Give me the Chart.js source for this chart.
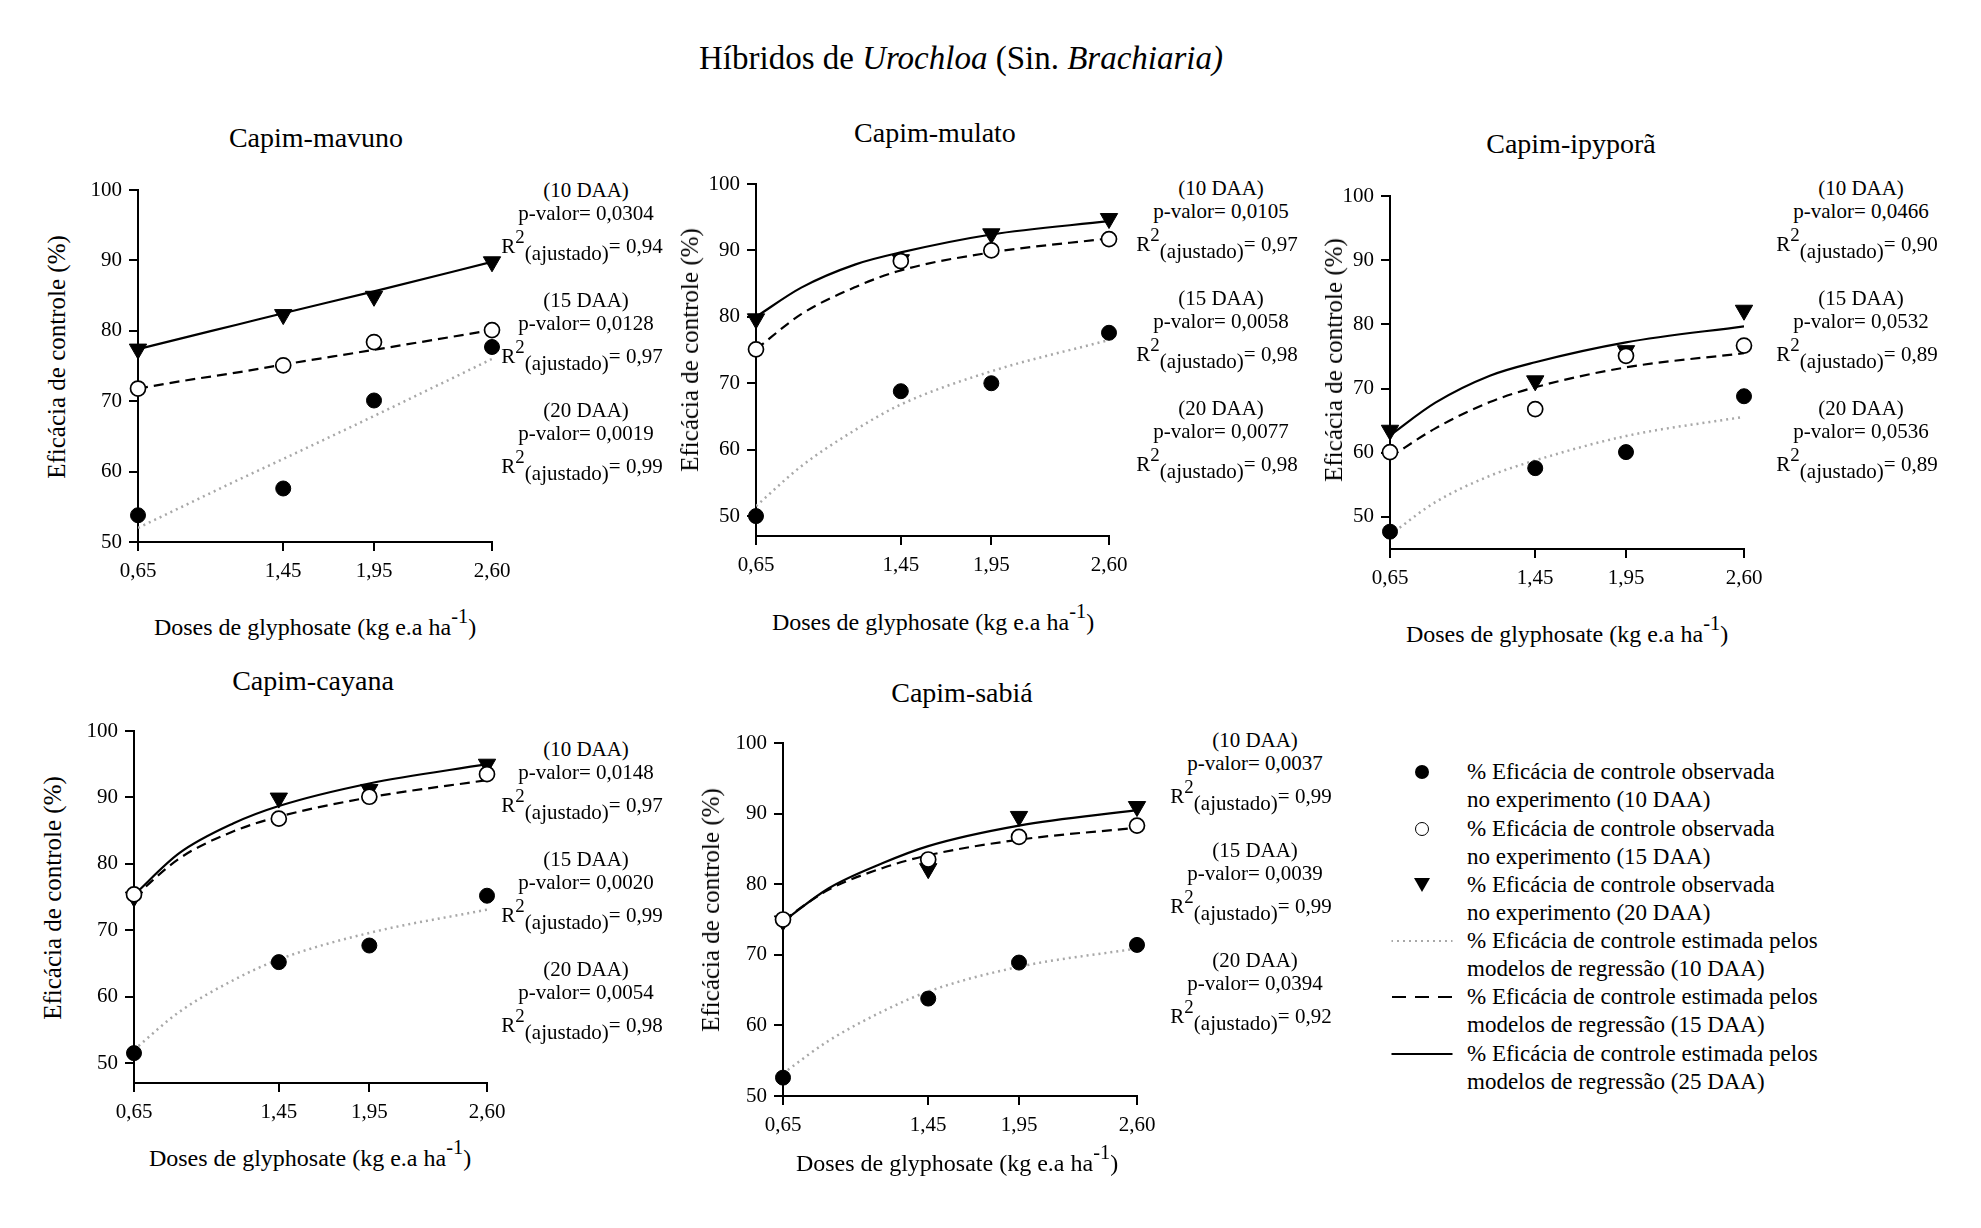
<!DOCTYPE html>
<html>
<head>
<meta charset="utf-8">
<script src="https://cdn.jsdelivr.net/npm/chart.js@4.4.1/dist/chart.umd.min.js"></script>
<style>
  body { margin: 0; background: #fff; }
  #page { position: relative; width: 1981px; height: 1228px; overflow: hidden;
          font-family: 'Liberation Serif', 'Times New Roman', serif; color: #000; }
  .box { position: absolute; }
  .txt { position: absolute; transform: translate(-50%, -50%); white-space: nowrap; }
  .main { font-size: 33px; }
  .ptitle { font-size: 28px; }
  .ytitle { font-size: 25px; transform: translate(-50%, -50%) rotate(-90deg); }
  .xtitle { font-size: 24px; }
  .xtitle sup { font-size: 0.85em; vertical-align: 0.55em; line-height: 0; }
  .note { font-size: 21px; }
  .note sup { font-size: 0.9em; vertical-align: 0.5em; line-height: 0; }
  .note sub { font-size: 1em; vertical-align: -0.35em; line-height: 0; }
  .leg { position: absolute; font-size: 23px; line-height: 28px; white-space: nowrap; }
  .sym { position: absolute; transform: translate(-50%, -50%); }
</style>
</head>
<body>
<div id="page"></div>
<script>
const doses = [0.65, 1.45, 1.95, 2.60];
const fitDoses = [0.65, 0.9, 1.2, 1.45, 1.95, 2.60];
const yTicks = [50, 60, 70, 80, 90, 100];
const daaLabels = ['(10 DAA)', '(15 DAA)', '(20 DAA)'];

// Capim-mavuno
const mavunoObs10 = [53.8, 57.6, 70.1, 77.7];
const mavunoObs15 = [71.8, 75.1, 78.4, 80.1];
const mavunoObs20 = [77.4, 82.3, 84.9, 89.8];
const mavunoFit10 = [52.0, 55.1, 58.8, 61.8, 67.9, 76.0];
const mavunoFit15 = [71.8, 72.9, 74.1, 75.2, 77.3, 80.1];
const mavunoFit20 = [77.4, 79.0, 80.9, 82.5, 85.6, 89.8];
const mavunoP = ['0,0304', '0,0128', '0,0019'];
const mavunoR2 = ['0,94', '0,97', '0,99'];

// Capim-mulato
const mulatoObs10 = [50.0, 68.8, 70.0, 77.6];
const mulatoObs15 = [75.1, 88.4, 90.0, 91.7];
const mulatoObs20 = [79.7, 88.6, 92.5, 94.8];
const mulatoFit10 = [51.5, 57.5, 63.0, 66.8, 71.8, 76.5];
const mulatoFit15 = [75.1, 80.4, 84.5, 87.0, 89.7, 91.8];
const mulatoFit20 = [80.0, 84.4, 87.9, 89.7, 92.4, 94.4];
const mulatoP = ['0,0105', '0,0058', '0,0077'];
const mulatoR2 = ['0,97', '0,98', '0,98'];

// Capim-ipyporã
const ipyporaObs10 = [47.7, 57.6, 60.1, 68.8];
const ipyporaObs15 = [60.1, 66.8, 75.1, 76.7];
const ipyporaObs20 = [63.5, 71.2, 75.9, 82.2];
const ipyporaFit10 = [47.2, 52.3, 56.4, 58.8, 62.6, 65.6];
const ipyporaFit15 = [59.3, 63.8, 67.9, 70.2, 73.3, 75.5];
const ipyporaFit20 = [62.7, 67.8, 72.0, 74.1, 77.2, 79.7];
const ipyporaP = ['0,0466', '0,0532', '0,0536'];
const ipyporaR2 = ['0,90', '0,89', '0,89'];

// Capim-cayana
const cayanaObs10 = [51.5, 65.2, 67.7, 75.2];
const cayanaObs15 = [75.4, 86.8, 90.1, 93.5];
const cayanaObs20 = [75.0, 89.9, 91.2, 95.0];
const cayanaFit10 = [52.0, 57.7, 62.5, 65.6, 69.6, 73.1];
const cayanaFit15 = [75.0, 80.8, 84.9, 87.1, 90.0, 92.6];
const cayanaFit20 = [75.3, 81.6, 86.1, 88.7, 92.1, 95.0];
const cayanaP = ['0,0148', '0,0020', '0,0054'];
const cayanaR2 = ['0,97', '0,99', '0,98'];

// Capim-sabiá
const sabiaObs10 = [52.6, 63.8, 68.9, 71.4];
const sabiaObs15 = [75.0, 83.5, 86.7, 88.3];
const sabiaObs20 = [74.8, 82.2, 89.6, 91.0];
const sabiaFit10 = [53.2, 57.8, 62.0, 64.8, 68.3, 70.9];
const sabiaFit15 = [74.9, 79.2, 82.3, 84.1, 86.3, 88.0];
const sabiaFit20 = [74.7, 79.4, 83.0, 85.4, 88.3, 90.5];
const sabiaP = ['0,0037', '0,0039', '0,0394'];
const sabiaR2 = ['0,99', '0,99', '0,92'];

const legendTexts = [
  ['% Eficácia de controle observada', 'no experimento (10 DAA)'],
  ['% Eficácia de controle observada', 'no experimento (15 DAA)'],
  ['% Eficácia de controle observada', 'no experimento (20 DAA)'],
  ['% Eficácia de controle estimada pelos', 'modelos de regressão (10 DAA)'],
  ['% Eficácia de controle estimada pelos', 'modelos de regressão (15 DAA)'],
  ['% Eficácia de controle estimada pelos', 'modelos de regressão (25 DAA)']
];

const panels = [
  { title: 'Capim-mavuno', obs: [mavunoObs10, mavunoObs15, mavunoObs20], fit: [mavunoFit10, mavunoFit15, mavunoFit20],
    p: mavunoP, r2: mavunoR2, yMin: 50, area: [138, 492, 190, 542],
    titleAt: [316, 138], yTitleAt: [57, 357], xTitleAt: [315, 627], notesAt: [586, 190] },
  { title: 'Capim-mulato', obs: [mulatoObs10, mulatoObs15, mulatoObs20], fit: [mulatoFit10, mulatoFit15, mulatoFit20],
    p: mulatoP, r2: mulatoR2, yMin: 47, area: [756, 1109, 184, 536],
    titleAt: [935, 133], yTitleAt: [690, 350], xTitleAt: [933, 622], notesAt: [1221, 188] },
  { title: 'Capim-ipyporã', obs: [ipyporaObs10, ipyporaObs15, ipyporaObs20], fit: [ipyporaFit10, ipyporaFit15, ipyporaFit20],
    p: ipyporaP, r2: ipyporaR2, yMin: 45, area: [1390, 1744, 196, 549],
    titleAt: [1571, 144], yTitleAt: [1334, 360], xTitleAt: [1567, 634], notesAt: [1861, 188] },
  { title: 'Capim-cayana', obs: [cayanaObs10, cayanaObs15, cayanaObs20], fit: [cayanaFit10, cayanaFit15, cayanaFit20],
    p: cayanaP, r2: cayanaR2, yMin: 47, area: [134, 487, 731, 1083],
    titleAt: [313, 681], yTitleAt: [53, 898], xTitleAt: [310, 1158], notesAt: [586, 749] },
  { title: 'Capim-sabiá', obs: [sabiaObs10, sabiaObs15, sabiaObs20], fit: [sabiaFit10, sabiaFit15, sabiaFit20],
    p: sabiaP, r2: sabiaR2, yMin: 50, area: [783, 1137, 743, 1096],
    titleAt: [962, 693], yTitleAt: [711, 910], xTitleAt: [957, 1163], notesAt: [1255, 740] }
];

const page = document.getElementById('page');
const FONT = "'Liberation Serif', 'Times New Roman', serif";

function addText(cls, x, y, html) {
  const d = document.createElement('div');
  d.className = 'txt ' + cls;
  d.style.left = x + 'px';
  d.style.top = y + 'px';
  d.innerHTML = html;
  page.appendChild(d);
  return d;
}

addText('main', 961, 58, 'Híbridos de <i>Urochloa</i> (Sin. <i>Brachiaria)</i>');

const obsStyles = [
  { pointStyle: 'circle', radius: 7.5, backgroundColor: '#000', borderColor: '#000', borderWidth: 1, rotation: 0 },
  { pointStyle: 'circle', radius: 7.5, backgroundColor: '#fff', borderColor: '#000', borderWidth: 1.7, rotation: 0 },
  { pointStyle: 'triangle', radius: 10, backgroundColor: '#000', borderColor: '#000', borderWidth: 1, rotation: 180 }
];
const fitStyles = [
  { borderColor: '#a8a8a8', borderWidth: 2.5, borderDash: [2, 4] },
  { borderColor: '#000', borderWidth: 2.2, borderDash: [10, 6] },
  { borderColor: '#000', borderWidth: 2.2, borderDash: [] }
];

function axisBase() {
  return {
    grid: { drawOnChartArea: false, drawTicks: true, tickLength: 9, color: '#000', lineWidth: 2 },
    border: { display: true, color: '#000', width: 2 },
    ticks: { color: '#000', font: { family: FONT, size: 21 }, padding: 7, maxRotation: 0, autoSkip: false }
  };
}

panels.forEach(function (p) {
  const padL = 60, padT = 20, padR = 40, axH = 50;
  const [L, R, T, B] = p.area;
  const box = document.createElement('div');
  box.className = 'box';
  box.style.left = (L - padL) + 'px';
  box.style.top = (T - padT) + 'px';
  box.style.width = (R - L + padL + padR) + 'px';
  box.style.height = (B - T + padT + axH) + 'px';
  const cv = document.createElement('canvas');
  box.appendChild(cv);
  page.appendChild(box);

  const datasets = [];
  p.fit.forEach(function (arr, i) {
    datasets.push(Object.assign({
      data: fitDoses.map((x, k) => ({ x: x, y: arr[k] })),
      showLine: true, pointRadius: 0, fill: false,
      cubicInterpolationMode: 'monotone', order: 2
    }, fitStyles[i]));
  });
  p.obs.forEach(function (arr, i) {
    const s = obsStyles[i];
    datasets.push({
      data: doses.map((x, k) => ({ x: x, y: arr[k] })),
      showLine: false, pointStyle: s.pointStyle, pointRadius: s.radius, pointRotation: s.rotation,
      pointBackgroundColor: s.backgroundColor, pointBorderColor: s.borderColor, pointBorderWidth: s.borderWidth,
      order: 1, clip: false
    });
  });

  const xAxis = axisBase();
  Object.assign(xAxis, {
    type: 'linear', min: 0.65, max: 2.60,
    afterBuildTicks: s => { s.ticks = doses.map(v => ({ value: v })); },
    afterFit: s => { s.height = axH; }
  });
  xAxis.ticks.callback = v => Number(v).toFixed(2).replace('.', ',');
  xAxis.ticks.padding = 8;

  const yAxis = axisBase();
  Object.assign(yAxis, {
    type: 'linear', min: p.yMin, max: 100,
    afterBuildTicks: s => { s.ticks = yTicks.map(v => ({ value: v })); },
    afterFit: s => { s.width = padL; }
  });
  yAxis.ticks.callback = v => String(v);

  new Chart(cv, {
    type: 'scatter',
    data: { datasets: datasets },
    options: {
      responsive: true, maintainAspectRatio: false, animation: false, events: [],
      layout: { padding: { left: 0, top: padT, right: padR, bottom: 0 } },
      plugins: { legend: { display: false }, tooltip: { enabled: false }, title: { display: false } },
      scales: { x: xAxis, y: yAxis }
    }
  });

  addText('ptitle', p.titleAt[0], p.titleAt[1], p.title);
  addText('ytitle', p.yTitleAt[0], p.yTitleAt[1], 'Eficácia de controle (%)');
  addText('xtitle', p.xTitleAt[0], p.xTitleAt[1], 'Doses de glyphosate (kg e.a ha<sup>-1</sup>)');

  const [nx, ny] = p.notesAt;
  daaLabels.forEach(function (lab, g) {
    const gy = ny + g * 110;
    addText('note', nx, gy, lab);
    addText('note', nx, gy + 23, 'p-valor= ' + p.p[g]);
    addText('note', nx - 4, gy + 56, 'R<sup>2</sup><sub>(ajustado)</sub>= ' + p.r2[g]);
  });
});

// legend
const legRows = [772, 829, 885, 941, 997, 1054];
const symX = 1422;
legendTexts.forEach(function (lines, i) {
  const t = document.createElement('div');
  t.className = 'leg';
  t.style.left = '1467px';
  t.style.top = (legRows[i] - 14) + 'px';
  t.innerHTML = lines[0] + '<br>' + lines[1];
  page.appendChild(t);

  const s = document.createElement('div');
  s.className = 'sym';
  s.style.left = symX + 'px';
  s.style.top = legRows[i] + 'px';
  if (i === 0) {
    s.style.cssText += 'width:14px;height:14px;border-radius:50%;background:#000;';
  } else if (i === 1) {
    s.style.cssText += 'width:12px;height:12px;border-radius:50%;border:1.7px solid #000;background:#fff;';
  } else if (i === 2) {
    s.style.cssText += 'width:0;height:0;border-left:8px solid transparent;border-right:8px solid transparent;border-top:14px solid #000;';
  } else if (i === 3) {
    s.style.cssText += 'width:61px;height:2px;background:repeating-linear-gradient(to right,#a8a8a8 0 2px,transparent 2px 6px);';
  } else if (i === 4) {
    s.style.cssText += 'width:61px;height:2px;background:repeating-linear-gradient(to right,#000 0 14px,transparent 14px 23px);';
  } else {
    s.style.cssText += 'width:61px;height:2px;background:#000;';
  }
  page.appendChild(s);
});
</script>
</body>
</html>
